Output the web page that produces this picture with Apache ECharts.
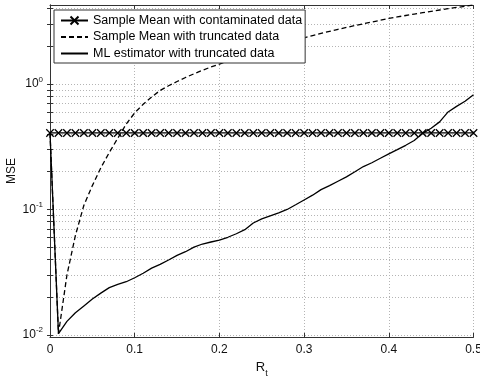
<!DOCTYPE html>
<html><head><meta charset="utf-8">
<script src="https://cdn.jsdelivr.net/npm/echarts@6/dist/echarts.min.js"></script>
<style>html,body{margin:0;padding:0;background:#fff}#c{width:480px;height:378px}</style>
</head><body><div id="c"></div>
<script>
const rt = [0,0.01,0.02,0.03,0.04,0.05,0.06,0.07,0.08,0.09,0.10,0.11,0.12,0.13,0.14,0.15,0.16,0.17,0.18,0.19,0.20,0.21,0.22,0.23,0.24,0.25,0.26,0.27,0.28,0.29,0.30,0.31,0.32,0.33,0.34,0.35,0.36,0.37,0.38,0.39,0.40,0.41,0.42,0.43,0.44,0.45,0.46,0.47,0.48,0.49,0.50];
const contaminatedMean = [0.408,0.408,0.408,0.408,0.408,0.408,0.408,0.408,0.408,0.408,0.408,0.408,0.408,0.408,0.408,0.408,0.408,0.408,0.408,0.408,0.408,0.408,0.408,0.408,0.408,0.408,0.408,0.408,0.408,0.408,0.408,0.408,0.408,0.408,0.408,0.408,0.408,0.408,0.408,0.408,0.408,0.408,0.408,0.408,0.408,0.408,0.408,0.408,0.408,0.408,0.408];
const truncatedMean = [0.408,0.0102,0.030,0.062,0.108,0.155,0.215,0.285,0.37,0.48,0.59,0.69,0.79,0.89,0.97,1.05,1.13,1.21,1.29,1.37,1.445,1.524,1.609,1.696,1.785,1.873,1.963,2.056,2.150,2.247,2.344,2.440,2.538,2.636,2.735,2.835,2.935,3.034,3.133,3.236,3.342,3.436,3.530,3.622,3.715,3.811,3.904,3.997,4.090,4.183,4.276];
const mlTruncated = [0.408,0.0102,0.0128,0.0150,0.0170,0.0193,0.0215,0.0238,0.0252,0.0265,0.0285,0.031,0.034,0.0365,0.0395,0.043,0.046,0.050,0.053,0.055,0.057,0.060,0.064,0.069,0.078,0.084,0.089,0.094,0.100,0.109,0.119,0.130,0.144,0.155,0.168,0.182,0.200,0.220,0.236,0.256,0.278,0.300,0.325,0.355,0.405,0.445,0.50,0.60,0.665,0.73,0.822];
const seriesNames = ['Sample Mean with contaminated data','Sample Mean with truncated data','ML estimator with truncated data'];
const yMajorTicks = [0.01,0.1,1];
const yMinorTicks = [0.02,0.03,0.04,0.05,0.06,0.07,0.08,0.09,0.2,0.3,0.4,0.5,0.6,0.7,0.8,0.9,2,3,4];
const xLabel = 'R';
const xLabelSub = 't';
const yLabel = 'MSE';

const font = '"Liberation Sans", Arial, Helvetica, sans-serif';
const yAllTicks = yMajorTicks.concat(yMinorTicks).sort((a,b)=>a-b);
const xMarker = 'path://M0,0L10,10M10,0L0,10';
const axisColor = '#333';
const gridStyle = {type:[1,2], color:'#b4b4b4', width:1};
function pairs(ys){ return rt.map((x,i)=>[x, ys[i]]); }

const chart = echarts.init(document.getElementById('c'), null, {renderer:'canvas'});
const yCommon = {
  type:'log', min:0.0096, max:4.28, logBase:10,
  axisLine:{show:true, lineStyle:{color:axisColor}},
};
const option = {
  animation:false,
  backgroundColor:'#fff',
  grid:{left:50, right:6.5, top:5, bottom:41, containLabel:false, outerBoundsMode:'none'},
  legend:{
    left:54, top:10, orient:'vertical',
    backgroundColor:'#fff', borderColor:'#333', borderWidth:1, borderRadius:0,
    padding:[4,3,3,6], itemWidth:27, itemHeight:10, itemGap:3.5,
    textStyle:{fontFamily:font, fontSize:12.5, color:'#000'},
    data:[
      {name:seriesNames[0]},
      {name:seriesNames[1], itemStyle:{opacity:0}},
      {name:seriesNames[2], itemStyle:{opacity:0}}
    ]
  },
  xAxis:[{
    type:'value', min:0, max:0.5, interval:0.1, position:'bottom',
    axisLine:{onZero:false, lineStyle:{color:axisColor}},
    axisTick:{inside:true, length:4, lineStyle:{color:axisColor}},
    axisLabel:{color:'#111', fontFamily:font, fontSize:12, margin:7},
    splitLine:{show:true, lineStyle:gridStyle},
    name:'{r|' + xLabel + '}{t|' + xLabelSub + '}', nameLocation:'middle', nameGap:21,
    nameTextStyle:{rich:{
      r:{fontFamily:font, fontSize:13, color:'#111', verticalAlign:'top'},
      t:{fontFamily:font, fontSize:9, color:'#111', verticalAlign:'top', padding:[8,0,0,0]}
    }}
  },{
    type:'value', min:0, max:0.5, interval:0.1, position:'top',
    axisLine:{onZero:false, lineStyle:{color:axisColor}},
    axisTick:{inside:true, length:4, lineStyle:{color:axisColor}},
    axisLabel:{show:false}, splitLine:{show:false}
  }],
  yAxis:[Object.assign({}, yCommon, {
    position:'left',
    axisTick:{inside:true, length:3, lineStyle:{color:axisColor}, customValues:yAllTicks},
    axisLabel:{customValues:yMajorTicks, margin:7, color:'#111', fontFamily:font,
      formatter:function(v){
        const e = Math.round(Math.log10(v));
        return '{b|10}{s|' + e + '}';
      },
      rich:{
        b:{fontFamily:font, fontSize:12, color:'#111'},
        s:{fontFamily:font, fontSize:8, color:'#111', verticalAlign:'top', padding:[0,0,9,0]}
      }
    },
    splitLine:{show:true, lineStyle:gridStyle},
    name:yLabel, nameLocation:'middle', nameGap:32, nameMoveOverlap:false,
    nameTextStyle:{fontFamily:font, fontSize:12, color:'#111'}
  }), Object.assign({}, yCommon, {
    position:'right',
    axisTick:{inside:true, length:3, lineStyle:{color:axisColor}, customValues:yAllTicks},
    axisLabel:{show:false}, splitLine:{show:false}
  })],
  series:[{
    name:seriesNames[0], type:'line', data:pairs(contaminatedMean),
    symbol:xMarker, symbolSize:7.5, showSymbol:true,
    itemStyle:{color:'#000', borderColor:'#000', borderWidth:1.3},
    lineStyle:{color:'#000', width:1.3}, z:3
  },{
    name:seriesNames[1], type:'line', data:pairs(truncatedMean),
    symbol:'none', showSymbol:false,
    itemStyle:{color:'#000'},
    lineStyle:{color:'#000', width:1.3, type:[5,3]}
  },{
    name:seriesNames[2], type:'line', data:pairs(mlTruncated),
    symbol:'none', showSymbol:false,
    itemStyle:{color:'#000'},
    lineStyle:{color:'#000', width:1.3}
  }]
};
chart.setOption(option);
</script></body></html>
